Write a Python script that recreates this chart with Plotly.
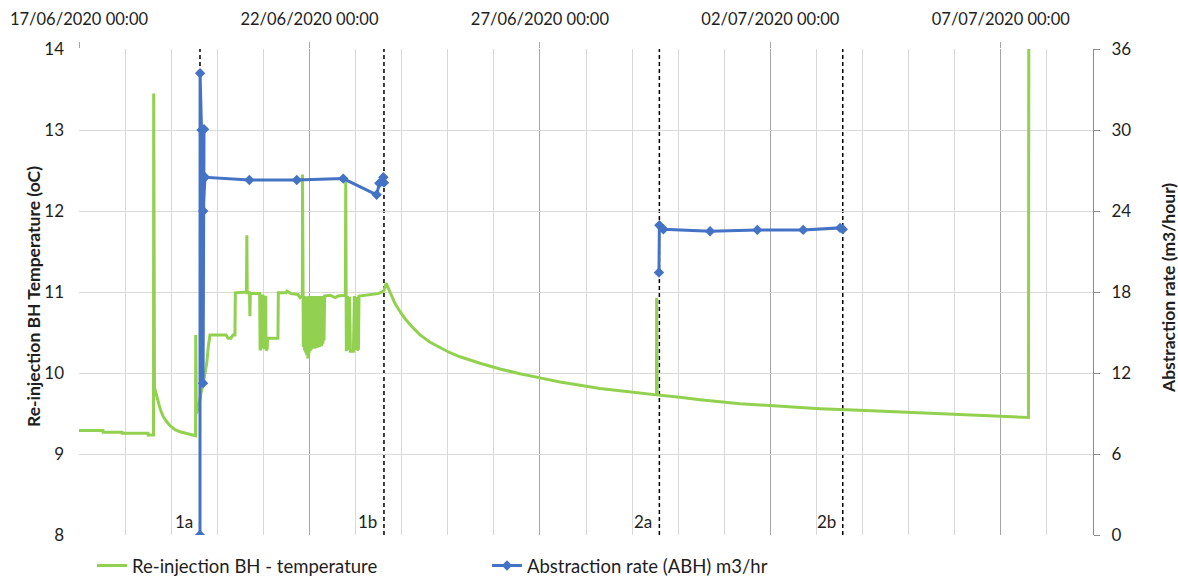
import pandas as pd
import plotly.graph_objects as go

# ---- data -------------------------------------------------------------
START = pd.Timestamp("2020-06-17 00:00")

# Re-injection borehole temperature (hours after 17/06/2020 00:00, degC)
temp_hours = [
    0.0, 12.5, 12.6, 22.4, 22.5, 35.9, 36.0, 38.8, 38.9, 39.3,
    40.1, 41.1, 42.2, 43.7, 45.3, 47.4, 50.0, 52.6, 55.7, 58.8,
    60.7, 60.8, 61.1, 62.5, 63.5, 64.7, 65.6, 66.5, 67.3, 68.2,
    76.5, 77.6, 79.1, 80.2, 81.2, 81.4, 87.2, 87.4, 87.6, 88.8,
    89.0, 89.2, 94.1, 94.3, 94.8, 95.0, 95.8, 96.0, 96.5, 96.7,
    97.2, 97.4, 98.0, 98.2, 103.6, 103.8, 107.8, 108.3, 110.4, 114.0,
    115.1, 116.3, 116.4, 116.6,
    116.8, 117.1, 117.4, 117.7, 118.0, 118.3, 118.6, 118.9, 119.2, 119.5,
    119.8, 120.1, 120.4, 120.7, 121.0, 121.3, 121.6, 121.9, 122.2, 122.5,
    122.8, 123.1, 123.4, 123.7, 124.0, 124.3, 124.6, 124.9, 125.2, 125.5,
    125.8, 126.1, 126.4, 126.7, 127.0, 127.3, 127.6, 127.9,
    128.1, 130.7, 133.3, 134.9, 137.5, 138.7, 138.9, 139.2, 139.8, 140.2,
    140.9, 141.3, 142.9, 143.4, 143.7, 144.5, 144.9, 145.5, 145.8, 148.9,
    152.6, 155.7, 157.8, 158.8, 159.9, 160.9, 162.5, 164.5, 167.1, 169.8,
    173.4, 177.6, 182.8, 188.0, 193.2, 198.4, 208.8, 219.2, 229.6, 240.0,
    250.5, 260.9, 271.3, 281.7, 292.1, 300.7, 300.8, 301.1, 312.9, 323.4,
    344.2, 365.0, 385.8, 406.6, 427.5, 453.5, 479.6, 494.4, 494.6,
]
temp_c = [
    9.29, 9.29, 9.27, 9.27, 9.255, 9.255, 9.235, 9.235, 13.45, 9.82,
    9.75, 9.65, 9.56, 9.47, 9.41, 9.35, 9.30, 9.275, 9.255, 9.235,
    9.225, 10.47, 9.50, 9.60, 9.75, 9.87, 10.00, 10.12, 10.32, 10.47,
    10.47, 10.43, 10.43, 10.47, 10.47, 10.99, 11.00, 11.70, 10.99, 10.99,
    10.70, 10.98, 10.98, 10.28, 10.32, 10.95, 10.95, 10.33, 10.30, 10.92,
    10.95, 10.28, 10.30, 10.43, 10.43, 10.99, 10.99, 11.01, 10.98, 10.97,
    10.93, 10.95, 12.45, 10.95,
    10.32, 10.94, 10.28, 10.95, 10.25, 10.93, 10.22, 10.94, 10.18, 10.95,
    10.24, 10.93, 10.27, 10.95, 10.29, 10.94, 10.30, 10.95, 10.31, 10.93,
    10.30, 10.95, 10.32, 10.94, 10.31, 10.95, 10.33, 10.94, 10.32, 10.95,
    10.34, 10.94, 10.33, 10.95, 10.36, 10.94, 10.40, 10.95,
    10.95, 10.96, 10.93, 10.95, 10.96, 10.96, 12.36, 10.27, 10.95, 10.28,
    10.94, 10.27, 10.27, 10.95, 10.28, 10.94, 10.28, 10.30, 10.95, 10.96,
    10.97, 10.98, 11.00, 11.02, 11.11, 11.06, 10.96, 10.86, 10.76, 10.67,
    10.57, 10.47, 10.38, 10.31, 10.25, 10.20, 10.12, 10.05, 9.99, 9.94,
    9.89, 9.85, 9.81, 9.78, 9.75, 9.73, 10.93, 9.73, 9.70, 9.67,
    9.62, 9.59, 9.56, 9.54, 9.52, 9.49, 9.47, 9.45, 15.0,
]

# Abstraction borehole flow rate (hours after start, m3/hr); None splits the two runs
flow_hours = [63.0, 63.05, 63.8, 64.6, 65.1, 64.7, 65.6, 88.7, 113.4, 137.6,
              155.0, 156.4, 158.5, 158.8, None,
              302.0, 302.2, 304.3, 328.6, 353.2, 377.1, 396.3, 397.7]
flow_m3h = [0.0, 34.2, 30.0, 11.25, 30.05, 24.0, 26.5, 26.3, 26.3, 26.4,
            25.2, 26.05, 26.5, 26.1, None,
            19.45, 22.95, 22.65, 22.5, 22.6, 22.6, 22.75, 22.65]

# Start / end of the pumping events (hours after start)
event_labels = ["1a", "1b", "2a", "2b"]
event_hours = [63.0, 158.8, 302.2, 397.7]

x_start, x_end = "2020-06-17", "2020-07-09"
temp_range = [8, 14]
flow_range = [0, 36]


def to_time(hours):
    return [None if h is None else START + pd.Timedelta(hours=h) for h in hours]


# ---- figure -----------------------------------------------------------
FONT = "Lato"
TXT = "#1e1e1e"
GREEN = "#92d050"
BLUE = "#4472c4"

fig = go.Figure()

fig.add_trace(go.Scatter(
    x=to_time(temp_hours), y=temp_c, mode="lines",
    name="Re-injection BH - temperature",
    line=dict(color=GREEN, width=3),
    yaxis="y",
))
fig.add_trace(go.Scatter(
    x=to_time(flow_hours), y=flow_m3h, mode="lines+markers",
    name="Abstraction rate (ABH) m3/hr",
    line=dict(color=BLUE, width=3),
    marker=dict(symbol="diamond", size=8, color=BLUE),
    connectgaps=False,
    yaxis="y2",
))

for lab, h in zip(event_labels, to_time(event_hours)):
    fig.add_shape(type="line", xref="x", yref="paper", x0=h, x1=h, y0=0, y1=1,
                  line=dict(color="black", width=1.5, dash="4px,3px"), layer="between")
    fig.add_annotation(x=h, y=0, xref="x", yref="paper", text=lab, showarrow=False,
                       xanchor="right", yanchor="bottom", xshift=-5, yshift=1,
                       font=dict(family=FONT, size=17, color=TXT))

# axis titles
fig.add_annotation(x=(33 - 79) / 1014, y=(535 - 297) / 486, xref="paper", yref="paper",
                   text="<b>Re-injection BH Temperature (oC)</b>", textangle=-90,
                   showarrow=False, xanchor="center", yanchor="middle",
                   font=dict(family=FONT, size=17.5, color=TXT))
fig.add_annotation(x=(1168 - 79) / 1014, y=(535 - 288) / 486, xref="paper", yref="paper",
                   text="<b>Abstraction rate (m3/hour)</b>", textangle=-90,
                   showarrow=False, xanchor="center", yanchor="middle",
                   font=dict(family=FONT, size=17.5, color=TXT))

fig.update_layout(
    width=1178, height=576,
    margin=dict(l=79, r=85, t=49, b=41, autoexpand=False),
    paper_bgcolor="white", plot_bgcolor="white",
    font=dict(family=FONT, size=16, color=TXT),
    showlegend=True,
    legend=dict(orientation="h", xref="container", yref="container",
                x=92 / 1178, y=(576 - 566) / 576, xanchor="left", yanchor="middle",
                entrywidth=350, font=dict(family=FONT, size=18.5, color=TXT),
                bgcolor="rgba(0,0,0,0)"),
    xaxis=dict(
        type="date", side="top", range=[x_start, x_end], automargin=False,
        tick0=x_start, dtick=5 * 86400000, tickformat="%d/%m/%Y %H:%M",
        ticks="outside", ticklen=6, tickcolor="#a6a6a6", ticklabelstandoff=10,
        showgrid=True, gridcolor="#a6a6a6", gridwidth=1,
        minor=dict(dtick=86400000, tick0=x_start, showgrid=True,
                   gridcolor="#d9d9d9", gridwidth=1, ticks=""),
        showline=False, zeroline=False,
        tickfont=dict(family=FONT, size=16.5, color=TXT),
    ),
    yaxis=dict(
        range=temp_range, dtick=1, showgrid=True, gridcolor="#d9d9d9", gridwidth=1,
        zeroline=False, showline=False, ticks="", ticklabelstandoff=14, automargin=False,
        tickfont=dict(family=FONT, size=17, color=TXT),
    ),
    yaxis2=dict(
        range=flow_range, dtick=6, overlaying="y", side="right", automargin=False,
        showgrid=False, zeroline=False, showline=True, linecolor="#8c8c8c",
        linewidth=1, ticks="outside", ticklen=6, tickcolor="#8c8c8c",
        ticklabelstandoff=8, tickfont=dict(family=FONT, size=17, color=TXT),
    ),
)

fig.write_html("out.html")
